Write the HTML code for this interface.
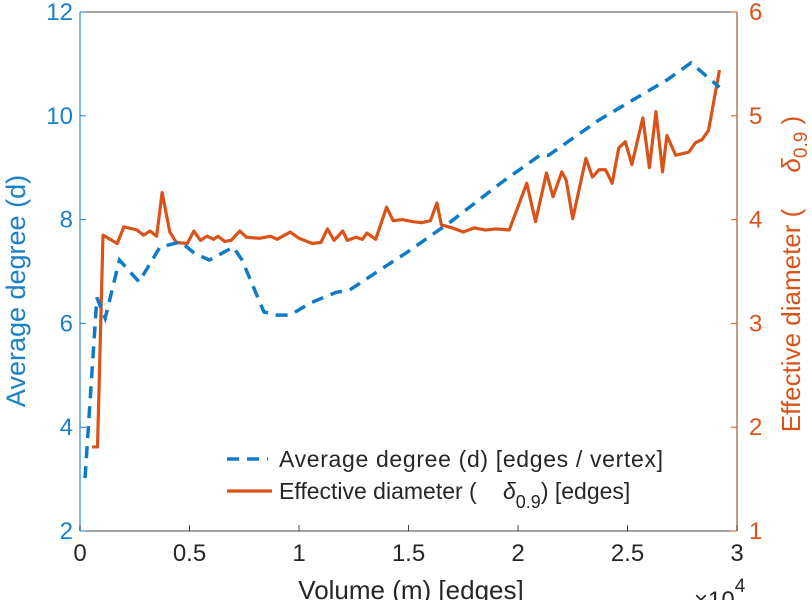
<!DOCTYPE html>
<html><head><meta charset="utf-8"><style>
body{margin:0;background:#fff;}
svg{display:block;font-family:"Liberation Sans",sans-serif;}
</style></head><body>
<svg id="chart" width="812" height="600" viewBox="0 0 812 600">
</svg>
<script>
const degX=[0.023,0.077,0.115,0.18,0.27,0.365,0.46,0.52,0.59,0.7,0.74,0.84,0.9,0.96,1.05,1.17,1.23,1.37,1.49,1.69,1.92,2.1,2.14,2.37,2.68,2.79,2.92];
const degY=[3.02,6.5,6.1,7.22,6.8,7.47,7.57,7.36,7.22,7.47,7.22,6.22,6.16,6.16,6.39,6.6,6.64,7.03,7.36,7.95,8.7,9.24,9.24,9.92,10.69,11.02,10.55];
const diaX=[0.055,0.08,0.105,0.17,0.2,0.26,0.29,0.32,0.35,0.375,0.41,0.44,0.49,0.52,0.55,0.58,0.61,0.63,0.66,0.69,0.73,0.76,0.82,0.87,0.9,0.96,1.0,1.06,1.1,1.13,1.16,1.2,1.22,1.26,1.29,1.31,1.35,1.4,1.43,1.47,1.52,1.56,1.6,1.63,1.65,1.7,1.75,1.8,1.85,1.9,1.96,2.04,2.08,2.13,2.16,2.2,2.22,2.25,2.31,2.34,2.37,2.4,2.43,2.46,2.49,2.52,2.57,2.6,2.63,2.66,2.68,2.72,2.78,2.81,2.84,2.87,2.92];
const diaY=[1.81,1.81,3.85,3.77,3.93,3.9,3.85,3.89,3.84,4.26,3.88,3.78,3.77,3.89,3.8,3.84,3.81,3.84,3.79,3.8,3.89,3.83,3.82,3.84,3.81,3.88,3.82,3.77,3.78,3.91,3.8,3.89,3.8,3.83,3.81,3.87,3.81,4.12,3.99,4.0,3.98,3.97,3.99,4.16,3.95,3.92,3.88,3.92,3.9,3.91,3.9,4.35,3.98,4.45,4.22,4.46,4.38,4.01,4.59,4.41,4.48,4.48,4.35,4.69,4.75,4.53,4.98,4.5,5.04,4.46,4.81,4.62,4.65,4.74,4.77,4.86,5.44];
const xTicks=[0,0.5,1,1.5,2,2.5,3];
const xTickLabels=["0","0.5","1","1.5","2","2.5","3"];
const yLTicks=[2,4,6,8,10,12];
const yRTicks=[1,2,3,4,5,6];

const X0=80,X1=737,YT=12,YB=531;
const sx=v=>X0+(v/3)*(X1-X0);
const syL=v=>YB-(v-2)/10*(YB-YT);
const syR=v=>YB-(v-1)/5*(YB-YT);
const NS="http://www.w3.org/2000/svg";
const svg=document.getElementById('chart');
function mk(tag,attrs,parent){const e=document.createElementNS(NS,tag);for(const k in attrs)e.setAttribute(k,attrs[k]);(parent||svg).appendChild(e);return e;}
const BLUE="#1a80c8",ORANGE="#d95319";

let e=mk('line',{x1:X0,y1:YB,x2:X1,y2:YB,stroke:'#444',"stroke-width":1});


e=mk('line',{x1:X0,y1:YT,x2:X1,y2:YT,stroke:'#444',"stroke-width":1});


e=mk('line',{x1:X0,y1:YT,x2:X0,y2:YB,stroke:'#5aa0d8',"stroke-width":1.5});


e=mk('line',{x1:X1,y1:YT,x2:X1,y2:YB,stroke:'#b07a6a',"stroke-width":1.5});



xTicks.forEach((t,i)=>{
  const x=sx(t);
  let l=mk('line',{x1:x,y1:YB,x2:x,y2:YB-6,stroke:'#444'});
  
  
  let tx=mk('text',{x:x,y:YB+30,"text-anchor":"middle","font-size":24,fill:'#262626'});
  tx.textContent=xTickLabels[i];
  
  
});
yLTicks.forEach(t=>{
  const y=syL(t);
  let l=mk('line',{x1:X0,y1:y,x2:X0+6,y2:y,stroke:BLUE});
  
  
  let tx=mk('text',{x:X0-7,y:y+8,"text-anchor":"end","font-size":24,fill:BLUE});
  tx.textContent=String(t);
  
  
});
yRTicks.forEach(t=>{
  const y=syR(t);
  let l=mk('line',{x1:X1,y1:y,x2:X1-6,y2:y,stroke:ORANGE});
  
  
  let tx=mk('text',{x:X1+12,y:y+8,"text-anchor":"start","font-size":24,fill:ORANGE});
  tx.textContent=String(t);
  
  
});

let p=mk('polyline',{points:diaX.map((x,i)=>sx(x)+','+syR(diaY[i])).join(' '),fill:'none',stroke:ORANGE,"stroke-width":3.2,"stroke-linejoin":"round"});


p=mk('polyline',{points:degX.map((x,i)=>sx(x)+','+syL(degY[i])).join(' '),fill:'none',stroke:'#0f7bc8',"stroke-width":3.5,"stroke-dasharray":"12 8"});


</script>
<svg width="812" height="600" style="position:absolute;left:0;top:0">
<text x="25" y="291" transform="rotate(-90 25 291)" text-anchor="middle" font-size="27" fill="#1a80c8" font-family="Liberation Sans, sans-serif">Average degree (d)</text>
<text x="800" y="274" transform="rotate(-90 800 274)" text-anchor="middle" font-size="26" fill="#d95319" font-family="Liberation Sans, sans-serif">Effective diameter (&#160;&#160;&#160;&#160;&#160;<tspan font-style="italic">δ</tspan><tspan font-size="19" dy="7">0.9</tspan><tspan dy="-7">&#160;)</tspan></text>
<text x="411" y="599" text-anchor="middle" font-size="26" fill="#262626" font-family="Liberation Sans, sans-serif">Volume (m) [edges]</text>
<text x="694" y="608" font-size="24" fill="#262626" font-family="Liberation Sans, sans-serif">×10<tspan font-size="19" dy="-16">4</tspan></text>
<g font-family="Liberation Sans, sans-serif" font-size="23" fill="#262626">
<line x1="227" y1="459" x2="268" y2="459" stroke="#0f7bc8" stroke-width="3.5" stroke-dasharray="12 8"/>
<text x="279" y="467" textLength="384">Average degree (d) [edges / vertex]</text>
<line x1="227" y1="491" x2="272" y2="491" stroke="#d95319" stroke-width="3.2"/>
<text x="279" y="499">Effective diameter (<tspan x="503" font-style="italic">δ</tspan><tspan font-size="18" dy="9">0.9</tspan><tspan dy="-9">) [edges]</tspan></text>
</g>
</svg>
</body></html>
